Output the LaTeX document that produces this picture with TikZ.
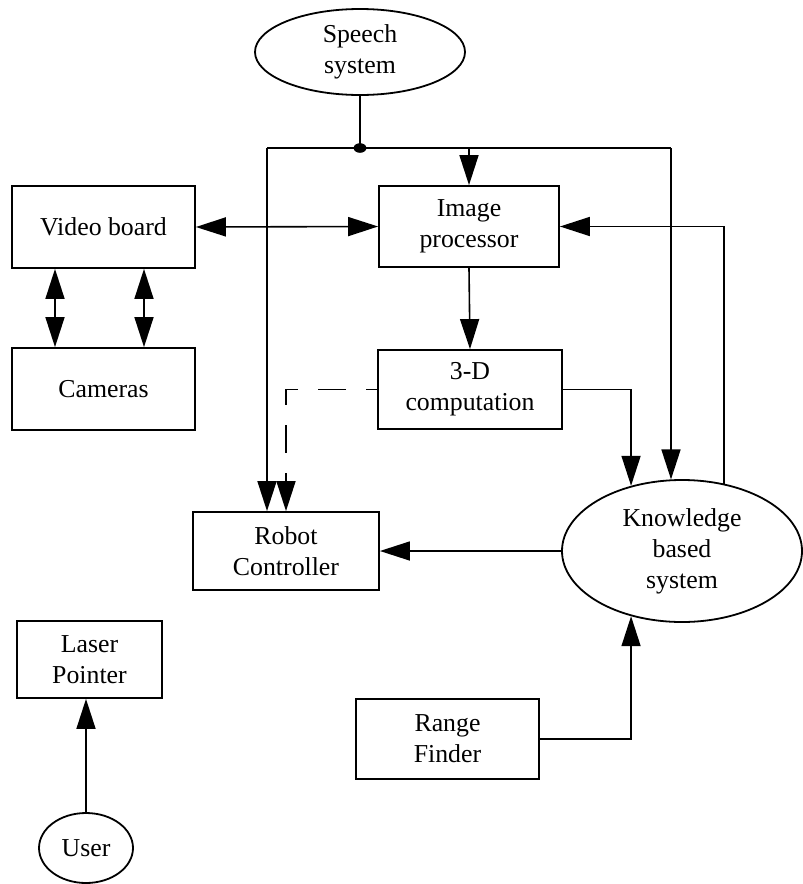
\documentclass[tikz,border=0pt]{standalone}
\usepackage{fontspec}
\setmainfont{Liberation Serif}
\usetikzlibrary{calc,shapes.geometric,arrows.meta}

\tikzset{
  box/.style={draw=black,line width=0.9pt,inner sep=0pt,align=center,font=\fontsize{12.9}{15.5}\selectfont},
  oval/.style={box,ellipse},
  arr/.style={-{Triangle[length=15pt,width=9.5pt]},line width=0.8pt},
  biarr/.style={{Triangle[length=15pt,width=9.5pt]}-{Triangle[length=15pt,width=9.5pt]},line width=0.8pt},
  wire/.style={line width=0.8pt},
}

\begin{document}
\begin{tikzpicture}[x=0.5pt,y=-0.5pt]
\useasboundingbox (0,0) rectangle (803,884);

% ovals
\node[oval,minimum width=105pt,minimum height=43pt] (speech) at (360,52) {Speech\\system};
\node[oval,minimum width=120pt,minimum height=71pt] (knowledge) at (682,551) {Knowledge\\based\\system};
\node[oval,minimum width=47pt,minimum height=35pt] (user) at (86,848) {User};

% boxes
\node[box,minimum width=91.5pt,minimum height=41pt] (video) at (103.5,227) {Video board};
\node[box,minimum width=91.5pt,minimum height=41pt] (cameras) at (103.5,389) {Cameras};
\node[box,minimum width=90pt,minimum height=40.5pt] (imgproc) at (469,226.5) {Image\\processor};
\node[box,minimum width=92pt,minimum height=39.5pt] (comp3d) at (470,389.5) {3-D\\computation};
\node[box,minimum width=93pt,minimum height=39pt] (robot) at (286,551) {Robot\\Controller};
\node[box,minimum width=91.5pt,minimum height=40pt] (range) at (447.5,739) {Range\\Finder};
\node[box,minimum width=72.5pt,minimum height=38.5pt] (laser) at (89.5,659.5) {Laser\\Pointer};

% speech bus
\coordinate (tap) at (360,148);
\coordinate (busL) at (267,148);
\coordinate (busR) at (671,148);
\draw[wire] (speech.south) -- (tap);
\draw[wire] (busL) -- (busR);
\fill (tap) ellipse [x radius=3.2pt, y radius=2.4pt];
\draw[arr] (imgproc.north |- tap) -- (imgproc.north);
\draw[arr] (busL) -- (busL |- robot.north);
\draw[arr] (busR) -- (busR |- knowledge.99);

% video board and cameras
\draw[biarr] (video.east) -- (imgproc.west);
\draw[biarr] ([xshift=-24.25pt]video.south) -- ([xshift=-24.25pt]cameras.north);
\draw[biarr] ([xshift=20.25pt]video.south) -- ([xshift=20.25pt]cameras.north);

% processing chain
\draw[arr] (imgproc.south) -- (comp3d.north);
\draw[arr] (comp3d.east) -| (knowledge.128);
\draw[arr,dash pattern=on 14pt off 10pt,dash phase=8.5pt] (comp3d.west) -| (robot.north);
\draw[arr] (knowledge.58) |- (imgproc.east);
\draw[arr] (knowledge.west) -- (robot.east);
\draw[arr] (range.east) -| (knowledge.-128);

% user
\draw[arr] (user.north) -- (user.north |- laser.south);

\end{tikzpicture}
\end{document}
